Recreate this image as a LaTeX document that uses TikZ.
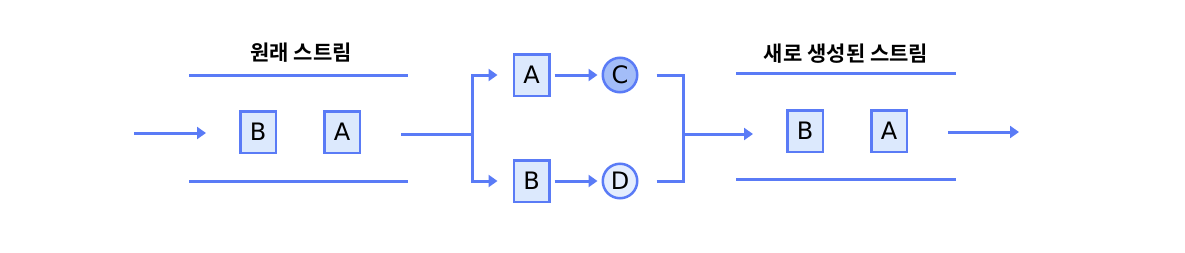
\documentclass[tikz,border=0pt]{standalone}
\usepackage{fontspec}
\setmainfont{DejaVu Sans}
\newfontfamily\kr{Noto Sans CJK KR Bold}
\usetikzlibrary{arrows.meta}
\definecolor{lineblue}{HTML}{5A7BF6}
\definecolor{boxfill}{HTML}{DCE9FD}
\definecolor{cfill}{HTML}{A3BDF8}
\definecolor{dfill}{HTML}{E4EDFE}
\begin{document}
\begin{tikzpicture}[x=1pt,y=-1pt,
  flow/.style={draw=lineblue, line width=3pt},
  arr/.style={flow, -{Triangle[length=9pt,width=12pt]}},
  rail/.style={draw=lineblue, line width=3pt},
  item/.style={draw=lineblue, fill=boxfill, line width=2.5pt, minimum width=35.5pt, minimum height=41.5pt, inner sep=0pt, font=\fontsize{24}{26}\selectfont},
  ev/.style={circle, draw=lineblue, line width=2.5pt, minimum size=34.5pt, inner sep=0pt, font=\fontsize{24}{26}\selectfont},
  title/.style={font=\kr\fontsize{21}{25}\selectfont}]
\useasboundingbox (0,0) rectangle (1185,252);
% left stream
\node[title] (t1) at (301,53) {원래 스트림};
\draw[rail] (189,75) -- (408,75);
\draw[rail] (189,181) -- (408,181);
\node[item] (lb) at (258,132) {B};
\node[item] (la) at (342,132) {A};
\coordinate (lin0) at (134,133);
\coordinate (lin1) at (206,133);
\draw[arr] (lin0) -- (lin1);
% split
\coordinate (sout) at (401,134);
\coordinate (split) at (472,134);
\node[item] (pa) at (531.5,75) {A};
\node[item] (pb) at (531.5,181) {B};
\node[ev, fill=cfill] (pc) at (620,75) {C};
\node[ev, fill=dfill] (pd) at (620,181) {D};
\draw[flow] (sout) -- (split);
\draw[arr, shorten >=15pt] (split) |- (pa.west);
\draw[arr, shorten >=15pt] (split) |- (pb.west);
\draw[arr, shorten <=4pt, shorten >=4pt] (pa) -- (pc);
\draw[arr, shorten <=4pt, shorten >=4pt] (pb) -- (pd);
% join
\coordinate (join) at (683,134);
\coordinate (rin) at (753,134);
\draw[flow, shorten <=18pt] (pc.east) -| (join);
\draw[flow, shorten <=18pt] (pd.east) -| (join);
\draw[arr] (join) -- (rin);
% right stream
\node[title] (t2) at (846,54) {새로 생성된 스트림};
\draw[rail] (736,73) -- (956,73);
\draw[rail] (736,179) -- (956,179);
\node[item] (rb) at (805,131) {B};
\node[item] (ra) at (889,131) {A};
\coordinate (rout0) at (948,132);
\coordinate (rout1) at (1019,132);
\draw[arr] (rout0) -- (rout1);
\end{tikzpicture}
\end{document}
